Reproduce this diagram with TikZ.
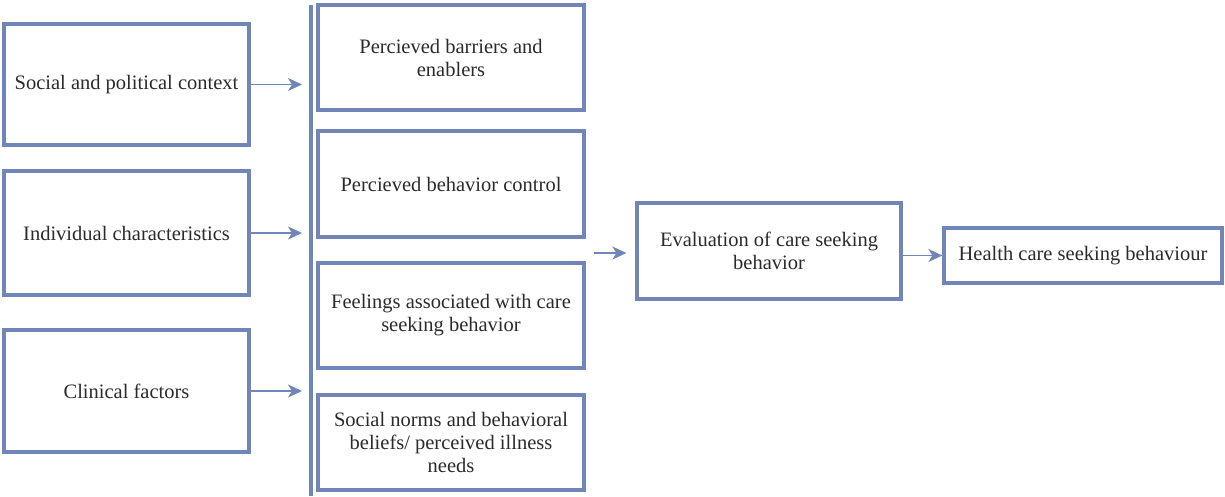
\documentclass[tikz,border=0pt]{standalone}
\usepackage{fontspec}
\setmainfont{Liberation Serif}
\usepackage{tikz}
\usetikzlibrary{arrows.meta}
\usetikzlibrary{positioning}
\usepackage{xcolor}
\definecolor{boxblue}{RGB}{112,134,184}
\definecolor{inkgray}{RGB}{45,42,42}
\tikzset{
    factor/.style={
        draw=boxblue,
        line width=3.2pt,
        fill=white,
        align=center,
        inner sep=2pt,
        text=inkgray,
        font=\fontsize{20.5}{23}\selectfont
    },
    flow/.style={
        draw=boxblue,
        line width=1.8pt,
        -{Stealth[length=14pt, width=13pt, inset=4pt]}
    }
}

\begin{document}
\begin{tikzpicture}[x=1pt, y=-1pt]
  \useasboundingbox (0,0) rectangle (1225,496);

  % Define the left column
  \node[factor, minimum width=245pt, minimum height=121pt] (social) at (126.5,84.5) {Social and political context};
  \node[factor, minimum width=245pt, minimum height=124pt] (indiv) at (126.5,233) {Individual characteristics};
  \node[factor, minimum width=245pt, minimum height=122pt] (clinical) at (126.5,391) {Clinical factors};

  % Define the bar and the middle column
  \coordinate (bartop) at (311,5);
  \coordinate (barbot) at (311,496);
  \draw[boxblue, line width=3.2pt] (bartop) -- (barbot);

  \node[factor, minimum width=266pt, minimum height=105pt] (barriers) at (451,57.5) {Percieved barriers and\\enablers};
  \node[factor, minimum width=266pt, minimum height=106pt] (control) at (451,184) {Percieved behavior control};
  \node[factor, minimum width=266pt, minimum height=105pt] (feelings) at (451,315.5) {Feelings associated with care\\seeking behavior};
  \node[factor, minimum width=266pt, minimum height=95pt] (norms) at (451,442.5) {Social norms and behavioral\\beliefs/ perceived illness\\needs};

  % Define the right side
  \node[factor, minimum width=264pt, minimum height=96pt] (evaluation) at (769,251) {Evaluation of care seeking\\behavior};
  \node[factor, minimum width=278pt, minimum height=55pt] (health) at (1083,255.5) {Health care seeking behaviour};

  % Define the arrows
  \draw[flow, shorten >=9pt] (social) -- (social -| bartop);
  \draw[flow, shorten >=9pt] (indiv) -- (indiv -| bartop);
  \draw[flow, shorten >=9pt] (clinical) -- (clinical -| bartop);

  \coordinate (midout) at (594,253);
  \draw[flow, shorten >=9pt] (midout) -- (midout -| evaluation.west);
  \draw[flow] (evaluation.east |- health) -- (health.west);
\end{tikzpicture}
\end{document}
